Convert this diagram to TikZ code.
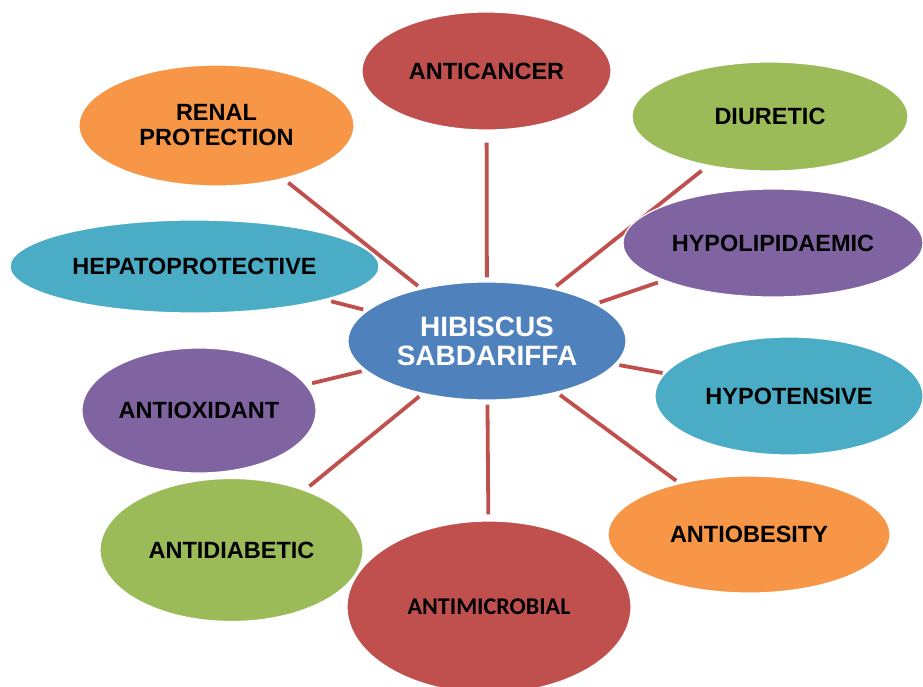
\documentclass[tikz,border=0pt]{standalone}
\usepackage{fontspec}
\setmainfont{Liberation Sans}
\newfontfamily\calib{Carlito}
\usetikzlibrary{shapes.geometric,backgrounds}
\definecolor{cred}{HTML}{C0504D}
\definecolor{cgreen}{HTML}{9BBB59}
\definecolor{cpurple}{HTML}{8064A2}
\definecolor{cteal}{HTML}{4BACC6}
\definecolor{corange}{HTML}{F79646}
\definecolor{cblue}{HTML}{4F81BD}
\tikzset{
  blob/.style n args={3}{ellipse, fill=#1, draw=white, line width=1.2pt,
    minimum width=#2, minimum height=#3, inner sep=0pt, align=center,
    font=\fontsize{23.5}{25}\selectfont\bfseries, text=black},
  link/.style={draw=cred, line width=3.8pt, shorten <=4pt, shorten >=6pt}
}
\begin{document}
\begin{tikzpicture}[x=1pt,y=-1pt]
\clip (0,0) rectangle (923,686);
\node[blob={cred}{249pt}{118pt}] (anticancer) at (486.5,71) {ANTICANCER};
\node[blob={corange}{275pt}{121pt}] (renal) at (216.5,125.5) {RENAL\\PROTECTION};
\node[blob={cgreen}{276pt}{109pt}] (diuretic) at (770,116.5) {DIURETIC};
\node[blob={cpurple}{300pt}{108pt}] (hypolip) at (773,243) {HYPOLIPIDAEMIC};
\node[blob={cteal}{369pt}{93pt}] (hepato) at (194.5,266.5) {HEPATOPROTECTIVE};
\node[blob={cteal}{268pt}{118pt}] (hypotens) at (789,396) {HYPOTENSIVE};
\node[blob={cpurple}{234pt}{125pt}] (antiox) at (199,410.5) {ANTIOXIDANT};
\node[blob={corange}{282pt}{117pt}] (antiob) at (749,534.5) {ANTIOBESITY};
\node[blob={cgreen}{263pt}{143pt}] (antidiab) at (231.5,550) {ANTIDIABETIC};
\node[blob={cred}{284pt}{172pt}, font=\calib\fontsize{24}{26}\selectfont\bfseries] (antimicro) at (489,607) {ANTIMICROBIAL};
\node[blob={cblue}{278pt}{118pt}, text=white, font=\fontsize{28}{29}\selectfont\bfseries] (hub) at (487,341) {HIBISCUS\\SABDARIFFA};
\begin{pgfonlayer}{background}
\fill[white] (0,0) rectangle (923,686);
\draw[link, shorten >=12pt] (hub) -- (anticancer);
\draw[link] (hub) -- (renal);
\draw[link, shorten >=8pt] (hub) -- (diuretic);
\draw[link] (hub) -- (hypolip);
\draw[link] (hub) -- (hepato);
\draw[link, shorten >=2pt] (hub) -- (hypotens);
\draw[link] (hub) -- (antiox);
\draw[link, shorten >=4pt] (hub) -- (antiob);
\draw[link] (hub) -- (antidiab);
\draw[link] (hub) -- (antimicro);
\end{pgfonlayer}
\end{tikzpicture}
\end{document}
